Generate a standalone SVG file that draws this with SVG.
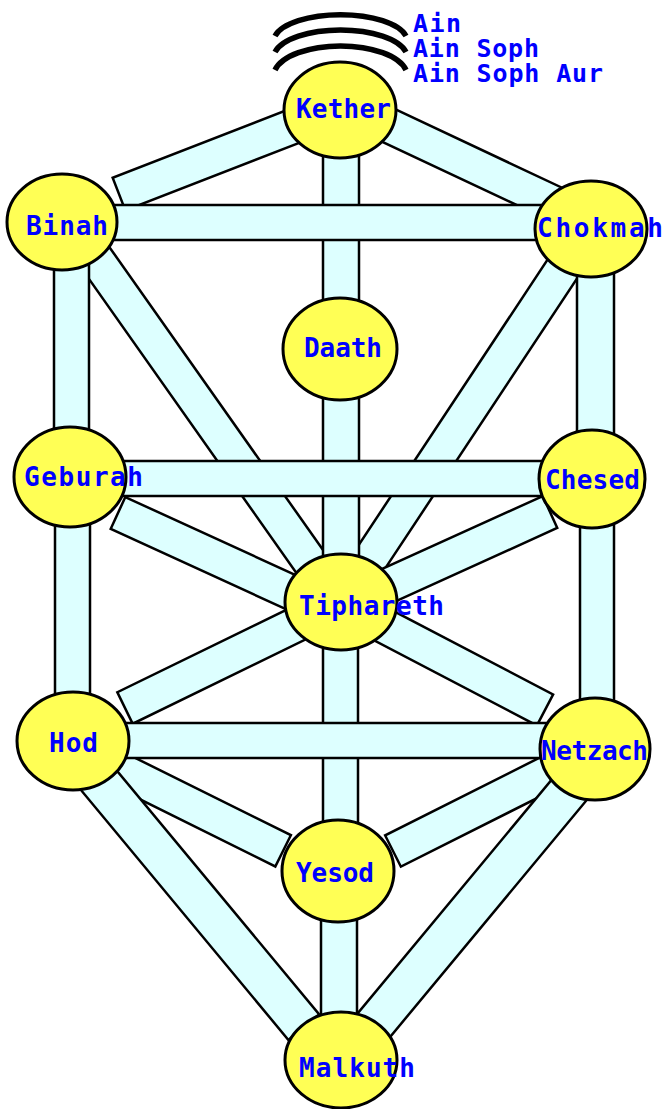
<svg xmlns="http://www.w3.org/2000/svg" width="663" height="1109" viewBox="0 0 663 1109">
<style>
.band{fill:#DDFFFF;stroke:#000;stroke-width:2.5}
.node{fill:#FFFF55;stroke:#000;stroke-width:3}
.lbl{font-family:"DejaVu Sans Mono","Liberation Mono",monospace;font-weight:bold;font-size:26px;fill:#0000FF}
.ain{font-size:25px}
.arc{fill:none;stroke:#000;stroke-width:5.5}
</style>
<rect width="663" height="1109" fill="#fff"/>
<g id="connectors">
<rect class="band" x="0" y="-17.5" width="215.6" height="35" transform="translate(119,194) rotate(-21.2)"/>
<rect class="band" x="0" y="-17.5" width="221" height="35" transform="translate(360,112) rotate(25.2)"/>
<rect class="band" x="0" y="-17.5" width="416.2" height="35" transform="translate(90,250) rotate(54.8)"/>
<rect class="band" x="0" y="-17.5" width="389.7" height="35" transform="translate(565,265) rotate(123.5)"/>
<rect class="band" x="0" y="-17.5" width="233.1" height="35" transform="translate(118,513) rotate(24.6)"/>
<rect class="band" x="0" y="-17.5" width="217.5" height="35" transform="translate(550,512) rotate(155.6)"/>
<rect class="band" x="0" y="-17.5" width="228.1" height="35" transform="translate(125,708) rotate(-26)"/>
<rect class="band" x="0" y="-17.5" width="220.1" height="35" transform="translate(545,710) rotate(207.6)"/>
<rect class="band" x="0" y="-17.5" width="215.6" height="35" transform="translate(90,755) rotate(26.4)"/>
<rect class="band" x="0" y="-17.5" width="209.3" height="35" transform="translate(393,851) rotate(-26.7)"/>
<rect class="band" x="0" y="-20" width="347.2" height="40" transform="translate(82,760) rotate(50.3)"/>
<rect class="band" x="0" y="-20" width="347.2" height="40" transform="translate(594,760) rotate(129.7)"/>
<rect class="band" x="323" y="140" width="36" height="180"/>
<rect class="band" x="323" y="380" width="36" height="200"/>
<rect class="band" x="323" y="630" width="35" height="210"/>
<rect class="band" x="321" y="900" width="36" height="130"/>
<rect class="band" x="54" y="250" width="35" height="200"/>
<rect class="band" x="55" y="505" width="35" height="210"/>
<rect class="band" x="577" y="255" width="37" height="200"/>
<rect class="band" x="580" y="505" width="34" height="220"/>
<rect class="band" x="100" y="205" width="460" height="35"/>
<rect class="band" x="110" y="461" width="450" height="35"/>
<rect class="band" x="110" y="723" width="450" height="35"/>
</g>
<g id="ain">
<path class="arc" d="M275,36 A67,27 0 0 1 406,36"/>
<path class="arc" d="M275,52 A67,28 0 0 1 406,52"/>
<path class="arc" d="M275,70 A67,30.5 0 0 1 406,70"/>
<text class="lbl ain" x="413" y="32" textLength="48">Ain</text>
<text class="lbl ain" x="413" y="57" textLength="126">Ain Soph</text>
<text class="lbl ain" x="413" y="82" textLength="190">Ain Soph Aur</text>
</g>
<g id="kether"><ellipse class="node" cx="340" cy="110" rx="56" ry="48"/><text class="lbl" x="296" y="118" textLength="95">Kether</text></g>
<g id="binah"><ellipse class="node" cx="62" cy="222" rx="55" ry="48"/><text class="lbl" x="26" y="235" textLength="82">Binah</text></g>
<g id="chokmah"><ellipse class="node" cx="591" cy="229" rx="56" ry="48"/><text class="lbl" x="537" y="237" textLength="126">Chokmah</text></g>
<g id="daath"><ellipse class="node" cx="340" cy="349" rx="57" ry="51"/><text class="lbl" x="304" y="357" textLength="78">Daath</text></g>
<g id="geburah"><ellipse class="node" cx="70" cy="477" rx="56" ry="50"/><text class="lbl" x="24" y="486" textLength="119">Geburah</text></g>
<g id="chesed"><ellipse class="node" cx="592" cy="479" rx="53" ry="49"/><text class="lbl" x="545" y="489" textLength="95">Chesed</text></g>
<g id="tiphareth"><ellipse class="node" cx="341" cy="602" rx="56" ry="48"/><text class="lbl" x="299" y="615" textLength="145">Tiphareth</text></g>
<g id="hod"><ellipse class="node" cx="73" cy="741" rx="56" ry="49"/><text class="lbl" x="49" y="752" textLength="49">Hod</text></g>
<g id="netzach"><ellipse class="node" cx="595" cy="749" rx="55" ry="51"/><text class="lbl" x="541" y="760" textLength="107">Netzach</text></g>
<g id="yesod"><ellipse class="node" cx="338" cy="871" rx="56" ry="51"/><text class="lbl" x="296" y="882" textLength="78">Yesod</text></g>
<g id="malkuth"><ellipse class="node" cx="341" cy="1060" rx="56" ry="48"/><text class="lbl" x="299" y="1077" textLength="116">Malkuth</text></g>
</svg>
